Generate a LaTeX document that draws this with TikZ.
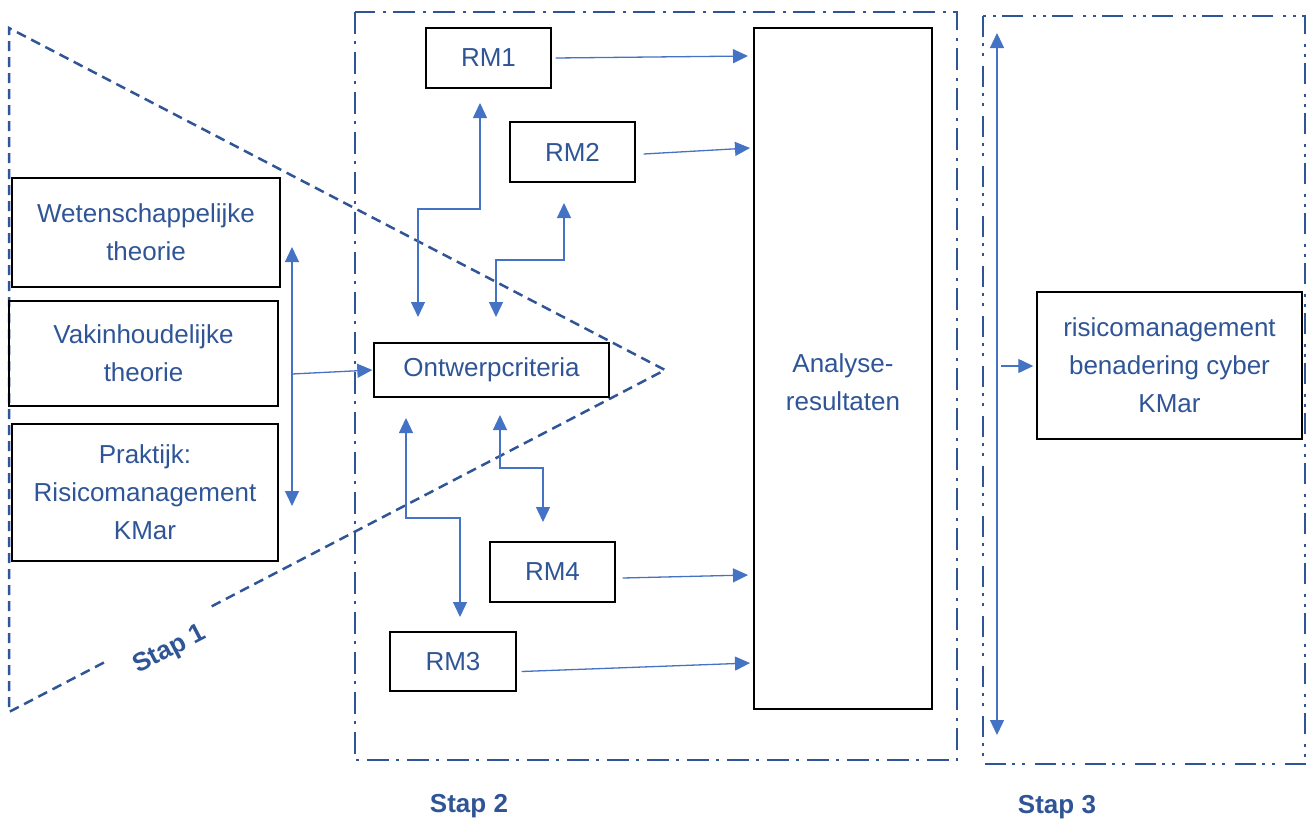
\documentclass[tikz,border=0pt]{standalone}
\usepackage{fontspec}
\setmainfont{Liberation Sans}
\usetikzlibrary{arrows.meta,calc}
\definecolor{stapblue}{HTML}{2F5597}
\definecolor{arrowblue}{HTML}{4472C4}
\begin{document}
\begin{tikzpicture}[x=1pt,y=-1pt,
  box/.style={draw=black, line width=1.4pt, text=stapblue, align=center,
    inner sep=0pt, font=\fontsize{26}{38}\selectfont},
  link/.style={draw=arrowblue, line width=1.3pt, -{Triangle[width=14pt,length=15pt]}},
  twoway/.style={link, {Triangle[width=14pt,length=15pt]}-{Triangle[width=14pt,length=15pt]}},
  phase/.style={draw=stapblue, line width=2.5pt},
  triline/.style={phase, dash pattern=on 10pt off 6pt},
  stapbox/.style={phase, dash pattern=on 22pt off 7pt on 3pt off 8pt},
  stapboxb/.style={phase, dash pattern=on 21pt off 6pt on 3pt off 7pt on 3pt off 10pt},
  steplabel/.style={text=stapblue, font=\fontsize{26}{30}\selectfont\bfseries, inner sep=0pt}
]
\useasboundingbox (0,0) rectangle (1312,822);

% ---- Stap 1: triangle ----
\coordinate (tl) at (9,28);
\coordinate (apex) at (665,370);
\coordinate (bl) at (9,712);
\draw[triline] ($(bl)!0.309!(apex)$) -- (apex) -- (tl) -- (bl) -- ($(bl)!0.146!(apex)$);
\node[steplabel, rotate=27.5] (s1) at (170,650) {Stap 1};

% ---- Stap 2 and Stap 3 frames ----
\draw[stapbox] (355,12) rectangle (957,760);
\draw[stapboxb] (983,16) rectangle (1305,764);
\node[steplabel] (s2) at (469,806) {Stap 2};
\node[steplabel] (s3) at (1057,807) {Stap 3};

% ---- sources ----
\node[box, minimum width=268pt, minimum height=109pt] (wet) at (146,232.5) {Wetenschappelijke\\theorie};
\node[box, minimum width=269pt, minimum height=105pt] (vak) at (143.5,353.5) {Vakinhoudelijke\\theorie};
\node[box, minimum width=266pt, minimum height=137pt] (prak) at (145,492.5) {Praktijk:\\Risicomanagement\\KMar};

% ---- design criteria and models ----
\node[box, minimum width=235pt, minimum height=54pt] (ont) at (491.5,370) {Ontwerpcriteria};
\node[box, minimum width=125pt, minimum height=60pt] (rm1) at (488.5,58) {RM1};
\node[box, minimum width=125pt, minimum height=60pt] (rm2) at (572.5,152) {RM2};
\node[box, minimum width=125pt, minimum height=60pt] (rm4) at (552.5,572) {RM4};
\node[box, minimum width=126pt, minimum height=59pt] (rm3) at (453,661.5) {RM3};
\node[box, minimum width=178pt, minimum height=681pt] (ana) at (843,368.5) {};
\node[box, draw=none, anchor=center] (anatext) at (843,382) {Analyse-\\resultaten};

% ---- result ----
\node[box, minimum width=265pt, minimum height=147pt] (risk) at (1169.5,365.5) {risicomanagement\\benadering cyber\\KMar};

% ---- connectors: sources to criteria ----
\coordinate (srcTop) at (292,247);
\coordinate (srcBot) at (292,506);
\coordinate (srcMid) at (292,374);
\draw[twoway] (srcTop) -- (srcBot);
\draw[link] (srcMid) -- ([xshift=-1pt]ont.west);

% ---- connectors: criteria to models ----
\coordinate (r1a) at (480,103);
\coordinate (r1b) at (418,317);
\draw[twoway] (r1a) -- (480,209) -- (418,209) -- (r1b);
\coordinate (r2a) at (564,203);
\coordinate (r2b) at (496,317);
\draw[twoway] (r2a) -- (564,260) -- (496,260) -- (r2b);
\coordinate (r3a) at (406,418);
\coordinate (r3b) at (460,617);
\draw[twoway] (r3a) -- (406,518) -- (460,518) -- (r3b);
\coordinate (r4a) at (500,415);
\coordinate (r4b) at (543,522);
\draw[twoway] (r4a) -- (500,468) -- (543,468) -- (r4b);

% ---- connectors: models to analysis ----
\draw[link] ([xshift=4pt]rm1.east) -- (748,56);
\draw[link] ([xshift=8pt,yshift=-2pt]rm2.east) -- (750,148);
\draw[link] ([xshift=7pt,yshift=-6pt]rm4.east) -- (748,575);
\draw[link] ([xshift=5pt,yshift=-10pt]rm3.east) -- (750,663);

% ---- Stap 3 ----
\coordinate (s3Top) at (997,33);
\coordinate (s3Bot) at (997,735);
\coordinate (s3Mid) at (1001,366);
\draw[twoway] (s3Top) -- (s3Bot);
\draw[link] (s3Mid) -- ([xshift=-3pt]risk.west |- s3Mid);
\end{tikzpicture}
\end{document}
